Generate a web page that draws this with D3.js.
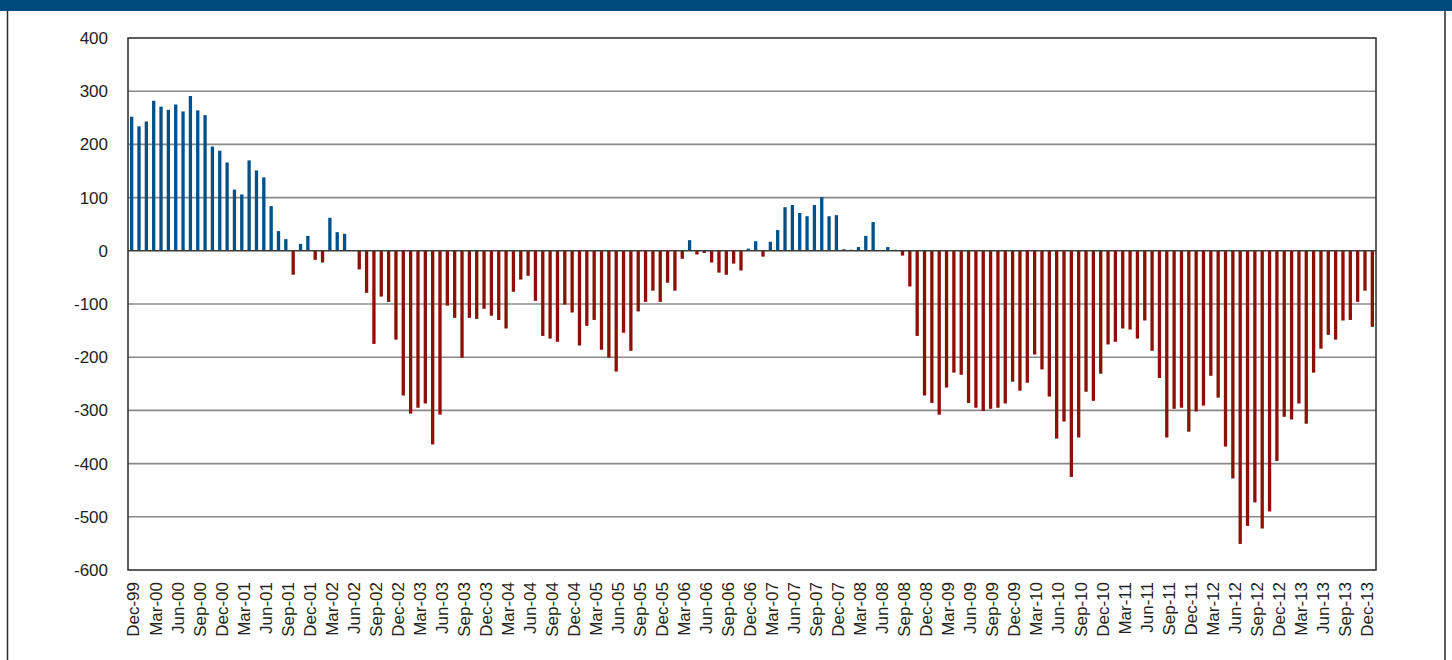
<!DOCTYPE html>
<html lang="en">
<head>
<meta charset="utf-8">
<title>Monthly balance, Dec-99 to Jan-14</title>
<script src="https://d3js.org/d3.v7.min.js"></script>
<style>
body{
  margin: 0;
  background: #fff;
}
svg text{
  font-family: "Liberation Sans", Arial, Helvetica, sans-serif;
  font-size: 17px;
  fill: #231f20;
}
.axis path{
  display: none;
}
</style>
</head>
<body>
<div id="chart"></div>

<script>
// month names used to build the categories (Dec-99 .. Jan-14, one bar per month)
var monthNames = ["Jan","Feb","Mar","Apr","May","Jun","Jul","Aug","Sep","Oct","Nov","Dec"];

// values, one per month
var values2000 = [252, 234, 243, 282, 271, 265, 275, 262, 291, 264, 255, 196, 188]; // Dec-99..Dec-00
var values2001 = [166, 115, 106, 170, 151, 138, 84, 37, 22, -45, 13, 28];
var values2002 = [-17, -22, 62, 35, 32, 0, -35, -79, -175, -86, -96, -167];
var values2003 = [-272, -306, -295, -287, -364, -308, -103, -126, -201, -126, -128, -109];
var values2004 = [-122, -130, -146, -77, -54, -47, -94, -160, -165, -171, -101, -116];
var values2005 = [-178, -141, -130, -186, -201, -227, -154, -188, -114, -96, -75, -96];
var values2006 = [-60, -75, -15, 20, -7, -4, -22, -41, -45, -24, -37, 4];
var values2007 = [18, -11, 17, 39, 82, 86, 71, 65, 86, 101, 65, 67];
var values2008 = [3, 2, 7, 28, 54, 0, 7, 2, -9, -67, -160, -272];
var values2009 = [-286, -308, -257, -229, -233, -286, -295, -301, -297, -295, -287, -246];
var values2010 = [-263, -248, -195, -223, -274, -353, -321, -425, -351, -265, -282, -231];
var values2011 = [-176, -171, -146, -148, -165, -131, -188, -239, -351, -297, -295, -340];
var values2012 = [-302, -291, -235, -276, -368, -428, -551, -517, -473, -522, -490, -395];
var values2013 = [-312, -317, -287, -325, -229, -184, -158, -167, -131, -130, -96, -75];
var values2014 = [-143]; // Jan-14

var values = [].concat(values2000, values2001, values2002, values2003, values2004,
  values2005, values2006, values2007, values2008, values2009, values2010,
  values2011, values2012, values2013, values2014);

var months = ["Dec-99"];
for (var yr = 2000; yr <= 2014; yr++) {
  for (var m = 0; m < 12; m++) {
    if (yr == 2014 && m > 0) break;
    months.push(monthNames[m] + "-" + String(yr % 100).padStart(2, "0"));
  }
}

// every third month gets a label
var tickLabels = months.filter(function(d, i) { return i % 3 == 0 && i <= 168; });
var yTicks = [400, 300, 200, 100, 0, -100, -200, -300, -400, -500, -600];

var data = months.map(function(d, i) { return {month: d, value: values[i]}; });

var W = 1452, H = 660;
var plotLeft = 128, plotRight = 1376, plotTop = 38, plotBottom = 570;

var svg = d3.select("#chart").append("svg")
  .attr("width", W)
  .attr("height", H);

// page header band and side rules
svg.append("rect")
  .attr("x", 0).attr("y", 0)
  .attr("width", W).attr("height", 11)
  .attr("fill", "#004b7d");

svg.append("line")
  .attr("x1", 7.5).attr("x2", 7.5).attr("y1", 11).attr("y2", H)
  .attr("stroke", "#2a2a2a").attr("stroke-width", 1.5);
svg.append("line")
  .attr("x1", 1445).attr("x2", 1445).attr("y1", 11).attr("y2", H)
  .attr("stroke", "#2a2a2a").attr("stroke-width", 1.5);

var x = d3.scaleBand()
  .domain(months)
  .range([plotLeft, plotRight])
  .paddingInner(0.55)
  .paddingOuter(0.275);

var y = d3.scaleLinear()
  .domain([-600, 400])
  .range([plotBottom, plotTop]);

// gridlines
svg.append("g")
  .selectAll("line")
  .data(yTicks.filter(function(d) { return d != 0 && d != 400 && d != -600; }))
  .enter()
  .append("line")
  .attr("x1", plotLeft).attr("x2", plotRight)
  .attr("y1", function(d) { return y(d); })
  .attr("y2", function(d) { return y(d); })
  .attr("stroke", "#8a8a8a")
  .attr("stroke-width", 1.6);

// bars
svg.append("g")
  .selectAll("rect")
  .data(data)
  .enter()
  .append("rect")
  .attr("x", function(d) { return x(d.month); })
  .attr("width", x.bandwidth())
  .attr("y", function(d) { return y(Math.max(0, d.value)); })
  .attr("height", function(d) { return Math.abs(y(d.value) - y(0)); })
  .attr("fill", function(d) { return d.value >= 0 ? "#005189" : "#8e0f06"; });

// zero line on top of the bars
svg.append("line")
  .attr("x1", plotLeft).attr("x2", plotRight)
  .attr("y1", y(0)).attr("y2", y(0))
  .attr("stroke", "#3c3c3c")
  .attr("stroke-width", 1.6);

// plot frame
svg.append("rect")
  .attr("x", plotLeft).attr("y", plotTop)
  .attr("width", plotRight - plotLeft).attr("height", plotBottom - plotTop)
  .attr("fill", "none")
  .attr("stroke", "#2a2a2a")
  .attr("stroke-width", 1.5);

// y axis labels (plain hyphen for negatives, like the original)
svg.append("g")
  .attr("class", "axis")
  .attr("transform", "translate(" + plotLeft + ",0)")
  .call(d3.axisLeft(y).tickValues(yTicks).tickSize(0).tickPadding(20)
    .tickFormat(function(d) { return String(d); }))
  .selectAll("text")
  .attr("fill", "#231f20");

// x axis labels, rotated
svg.append("g")
  .attr("class", "axis")
  .attr("transform", "translate(0," + plotBottom + ")")
  .call(d3.axisBottom(x).tickValues(tickLabels).tickSize(0))
  .selectAll("text")
  .attr("transform", "rotate(-90)")
  .attr("text-anchor", "end")
  .attr("x", -12)
  .attr("y", 0)
  .attr("dy", "0.46em")
  .attr("fill", "#231f20");
</script>
</body>
</html>
